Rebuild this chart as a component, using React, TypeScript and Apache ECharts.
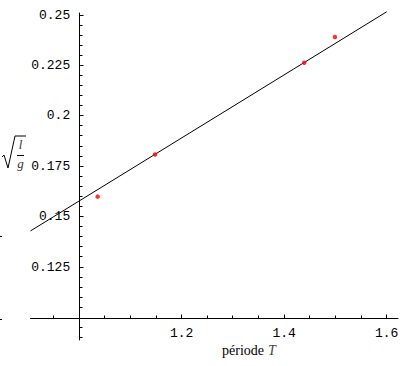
import React, { useEffect, useRef } from "react";
import * as echarts from "echarts";

const periodT = [1.036, 1.148, 1.439, 1.499];
const sqrtLg = [0.1599, 0.1808, 0.2263, 0.2391];
const fitT = [0.905, 1.6];
const fitSqrtLg = [0.1429, 0.2516];

// Axis / tick definitions
const xLineRange = [0.905, 1.622];
const xLabelRange = [1.2, 1.6];
const xLabelStep = 0.2;
const xMajorTicks = [1.2, 1.4, 1.6];
const xMinorTicks = [0.95, 1.05, 1.1, 1.15, 1.25, 1.3, 1.35, 1.45, 1.5, 1.55];
const yLineRange = [0.0888, 0.251];
const yLabelRange = [0.125, 0.25];
const yLabelStep = 0.025;
const yMajorTicks = [0.125, 0.15, 0.175, 0.2, 0.225, 0.25];
const yMinorTicks = [
  0.09, 0.095, 0.105, 0.11, 0.115, 0.12, 0.13, 0.135, 0.14, 0.145, 0.155, 0.16,
  0.165, 0.17, 0.18, 0.185, 0.19, 0.195, 0.205, 0.21, 0.215, 0.22, 0.23, 0.235,
  0.24, 0.245,
];
const X_AXIS_CROSS_VAL = 0.0996; // y value where the T axis is drawn
const Y_AXIS_CROSS_VAL = 1.0; // T value where the vertical axis is drawn

// Pixel scale of the plot
const W = 409;
const H = 366;
const X_UNIT_PX = 512.5; // px per unit T
const X_ONE_PX = 79.2; // px position of T = 1
const Y_UNIT_PX = 2016; // px per unit
const Y_REF_VAL = 0.125;
const Y_REF_PX = 267;
const px = (v: number) => X_ONE_PX + (v - 1) * X_UNIT_PX;
const py = (v: number) => Y_REF_PX - (v - Y_REF_VAL) * Y_UNIT_PX;
const MINOR_LEN = 3;
const MAJOR_LEN = 4;

const MONO = '"Liberation Mono", "DejaVu Sans Mono", monospace';
const SERIF = '"Liberation Serif", "DejaVu Serif", serif';

const hidden = (gridIndex: number) => ({
  type: "value",
  gridIndex,
  show: false,
  min: 0,
  max: 1,
  axisLine: { show: false, onZero: false },
  splitLine: { show: false },
});

const crisp = (v: number) => Math.round(v - 0.5) + 0.5;

const xTickRenderer = (len: number) => (_params: any, api: any) => {
  const c = api.coord([api.value(0), api.value(1)]);
  const x = crisp(c[0]);
  const y = crisp(c[1]);
  return {
    type: "line",
    shape: { x1: x, y1: y, x2: x, y2: y - len },
    style: { stroke: "#000", lineWidth: 1 },
    silent: true,
  };
};
const yTickRenderer = (len: number) => (_params: any, api: any) => {
  const c = api.coord([api.value(0), api.value(1)]);
  const x = crisp(c[0]);
  const y = crisp(c[1]);
  return {
    type: "line",
    shape: { x1: x, y1: y, x2: x + len, y2: y },
    style: { stroke: "#000", lineWidth: 1 },
    silent: true,
  };
};

export default function App() {
  const ref = useRef<HTMLDivElement>(null);
  useEffect(() => {
    if (!ref.current) return;
    const chart = echarts.init(ref.current, undefined, { renderer: "svg" });

    const xAxisPx = py(X_AXIS_CROSS_VAL);
    const xGrid = (lo: number, hi: number) => ({
      left: px(lo),
      right: W - px(hi),
      top: 20,
      bottom: H - xAxisPx,
    });
    const yGrid = (lo: number, hi: number) => ({
      left: px(Y_AXIS_CROSS_VAL),
      width: 100,
      top: py(hi),
      bottom: H - py(lo),
    });
    const black = { color: "#000", width: 1 };
    const labelStyle = { color: "#000", fontFamily: MONO, fontSize: 13, margin: 9 };

    const tickSeries = (vals: number[], isX: boolean, len: number) => ({
      type: "custom",
      xAxisIndex: 0,
      yAxisIndex: 0,
      clip: false,
      silent: true,
      z: 5,
      data: vals.map((v) => (isX ? [v, X_AXIS_CROSS_VAL] : [Y_AXIS_CROSS_VAL, v])),
      renderItem: isX ? xTickRenderer(len) : yTickRenderer(len),
    });

    chart.setOption({
      animation: false,
      backgroundColor: "#ffffff",
      grid: [
        { left: px(0.9), right: W - px(1.625), top: py(0.255), bottom: H - py(0.085) },
        xGrid(xLineRange[0], xLineRange[1]),
        xGrid(xLabelRange[0], xLabelRange[1]),
        yGrid(yLineRange[0], yLineRange[1]),
        yGrid(yLabelRange[0], yLabelRange[1]),
      ],
      xAxis: [
        { ...hidden(0), min: 0.9, max: 1.625 },
        {
          type: "value",
          gridIndex: 1,
          position: "bottom",
          min: xLineRange[0],
          max: xLineRange[1],
          axisLine: { show: true, onZero: false, lineStyle: { ...black } },
          axisTick: { show: false },
          axisLabel: { show: false },
          splitLine: { show: false },
        },
        {
          type: "value",
          gridIndex: 2,
          position: "bottom",
          min: xLabelRange[0],
          max: xLabelRange[1],
          interval: xLabelStep,
          axisLine: { show: false, onZero: false },
          axisTick: { show: false },
          axisLabel: { show: true, showMinLabel: true, showMaxLabel: true, ...labelStyle },
          splitLine: { show: false },
        },
        hidden(3),
        hidden(4),
      ],
      yAxis: [
        { ...hidden(0), min: 0.085, max: 0.255 },
        hidden(1),
        hidden(2),
        {
          type: "value",
          gridIndex: 3,
          position: "left",
          min: yLineRange[0],
          max: yLineRange[1],
          axisLine: { show: true, onZero: false, lineStyle: { ...black } },
          axisTick: { show: false },
          axisLabel: { show: false },
          splitLine: { show: false },
        },
        {
          type: "value",
          gridIndex: 4,
          position: "left",
          min: yLabelRange[0],
          max: yLabelRange[1],
          interval: yLabelStep,
          axisLine: { show: false, onZero: false },
          axisTick: { show: false },
          axisLabel: { show: true, showMinLabel: true, showMaxLabel: true, ...labelStyle },
          splitLine: { show: false },
        },
      ],
      series: [
        tickSeries(xMinorTicks, true, MINOR_LEN),
        tickSeries(xMajorTicks, true, MAJOR_LEN),
        tickSeries(yMinorTicks, false, MINOR_LEN),
        tickSeries(yMajorTicks, false, MAJOR_LEN),
        {
          type: "line",
          xAxisIndex: 0,
          yAxisIndex: 0,
          data: fitT.map((t, i) => [t, fitSqrtLg[i]]),
          showSymbol: false,
          symbol: "none",
          lineStyle: { color: "#000", width: 1 },
          silent: true,
          z: 3,
        },
        {
          type: "scatter",
          xAxisIndex: 0,
          yAxisIndex: 0,
          data: periodT.map((t, i) => [t, sqrtLg[i]]),
          symbol: "circle",
          symbolSize: 4.5,
          itemStyle: { color: "#ff0000" },
          silent: true,
          z: 6,
        },
      ],
      graphic: [
        // radical sign of sqrt(l/g)
        {
          type: "polyline",
          shape: { points: [[2, 157], [4, 155], [8, 168], [15, 136], [26, 136]] },
          style: { stroke: "#000", lineWidth: 1, fill: "none" },
          silent: true,
        },
        {
          type: "line",
          shape: { x1: 17, y1: 155.5, x2: 24, y2: 155.5 },
          style: { stroke: "#000", lineWidth: 1 },
          silent: true,
        },
        {
          type: "text",
          x: 20.5,
          y: 144,
          style: {
            text: "l",
            font: `italic 13px ${SERIF}`,
            fill: "#333",
            textAlign: "center",
            textVerticalAlign: "middle",
            align: "center",
            verticalAlign: "middle",
          },
          silent: true,
        },
        {
          type: "text",
          x: 20.5,
          y: 163,
          style: {
            text: "g",
            font: `italic 13px ${SERIF}`,
            fill: "#333",
            textAlign: "center",
            textVerticalAlign: "middle",
            align: "center",
            verticalAlign: "middle",
          },
          silent: true,
        },
        // x axis title
        {
          type: "text",
          x: 222,
          y: 350,
          style: {
            text: "période",
            font: `14px ${SERIF}`,
            fill: "#000",
            textAlign: "left",
            textVerticalAlign: "middle",
            align: "left",
            verticalAlign: "middle",
          },
          silent: true,
        },
        {
          type: "text",
          x: 268,
          y: 350,
          style: {
            text: "T",
            font: `italic 14px ${SERIF}`,
            fill: "#444",
            textAlign: "left",
            textVerticalAlign: "middle",
            align: "left",
            verticalAlign: "middle",
          },
          silent: true,
        },
        // small marks at the left edge
        {
          type: "line",
          shape: { x1: 0, y1: 236.5, x2: 2, y2: 236.5 },
          style: { stroke: "#000", lineWidth: 1 },
          silent: true,
        },
        {
          type: "line",
          shape: { x1: 0, y1: 319.5, x2: 2, y2: 319.5 },
          style: { stroke: "#000", lineWidth: 1 },
          silent: true,
        },
      ],
    });
    return () => chart.dispose();
  }, []);
  return <div ref={ref} style={{ width: W, height: H, position: "absolute", left: 0, top: 0 }} />;
}
